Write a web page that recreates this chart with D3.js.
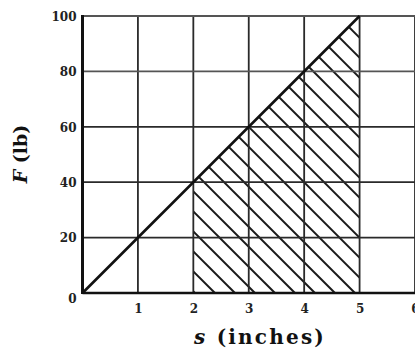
<!DOCTYPE html>
<html>
<head>
<meta charset="utf-8">
<script src="https://cdn.jsdelivr.net/npm/d3@7"></script>
<style>
  html, body { margin: 0; padding: 0; background: #fff; }
  svg { display: block; }
</style>
</head>
<body>
<svg id="chart" width="415" height="356"></svg>
<script>
// ---- data ----
const xTickValues = [1, 2, 3, 4, 5, 6];
const yTickValues = [0, 20, 40, 60, 80, 100];
const lineS = [0, 5];          // s (inches)
const lineF = [0, 100];        // F (lb)
const workS = [2, 5];          // shaded interval
const workF = [40, 100];       // F at interval ends
const xDomain = [0, 6];
const yDomain = [0, 100];

// ---- layout ----
const svg = d3.select("#chart");
const x = d3.scaleLinear().domain(xDomain).range([82.5, 415]);
const y = d3.scaleLinear().domain(yDomain).range([293, 16]);

const gridColor = "#2a2a2a";

// hatched region (clip)
const areaGen = d3.area()
  .x(d => x(d[0]))
  .y0(y(0))
  .y1(d => y(d[1]));
const areaData = workS.map((s, i) => [s, workF[i]]);
svg.append("clipPath").attr("id", "hatchClip")
  .append("path").attr("d", areaGen(areaData));

const hatchG = svg.append("g").attr("clip-path", "url(#hatchClip)");
const spacing = 20;
const x0 = x(3) - y(60);
const minC = x(workS[0]) - y(0) - 40, maxC = x(workS[1]) - y(100) + 40;
const cs = [];
for (let c = x0 - Math.ceil((x0 - minC) / spacing) * spacing; c <= maxC; c += spacing) cs.push(c);
hatchG.selectAll("line").data(cs).enter().append("line")
  .attr("x1", c => c + y(100) - 10).attr("y1", y(100) - 10)
  .attr("x2", c => c + y(0) + 10).attr("y2", y(0) + 10)
  .attr("stroke", "#1a1a1a").attr("stroke-width", 2);

// grid
svg.append("g").selectAll("line").data(xTickValues).enter().append("line")
  .attr("x1", d => x(d)).attr("x2", d => x(d))
  .attr("y1", y(100)).attr("y2", y(0))
  .attr("stroke", gridColor).attr("stroke-width", 1.8);
svg.append("g").selectAll("line").data(yTickValues.filter(v => v > 0)).enter().append("line")
  .attr("x1", x(0)).attr("x2", x(6))
  .attr("y1", d => y(d)).attr("y2", d => y(d))
  .attr("stroke", d => d === 100 || d === 80 ? "#555" : gridColor)
  .attr("stroke-width", 1.8);

// axes lines
svg.append("line").attr("x1", x(0)).attr("x2", x(0)).attr("y1", y(100) - 1).attr("y2", y(0) + 1)
  .attr("stroke", "#111").attr("stroke-width", 3);
svg.append("line").attr("x1", x(0)).attr("x2", x(6)).attr("y1", y(0)).attr("y2", y(0))
  .attr("stroke", "#111").attr("stroke-width", 2.6);

// F = 20 s line
svg.append("path")
  .attr("d", d3.line().x(d => x(d[0])).y(d => y(d[1]))(lineS.map((s, i) => [s, lineF[i]])))
  .attr("fill", "none").attr("stroke", "#111").attr("stroke-width", 2.6);

// tick labels via axes
const fontFam = "'DejaVu Serif', serif";
const yAxis = d3.axisLeft(y).tickValues(yTickValues).tickSize(0).tickPadding(6).tickFormat(d3.format("d"));
const gy = svg.append("g").attr("transform", `translate(${x(0)},0)`).call(yAxis);
gy.select(".domain").remove();
gy.selectAll("text").attr("font-family", fontFam).attr("font-weight", "bold")
  .attr("font-size", 12).attr("fill", "#222")
  .attr("dy", d => d === 0 ? "0.75em" : "0.36em");

const xAxis = d3.axisBottom(x).tickValues(xTickValues).tickSize(0).tickPadding(11).tickFormat(d3.format("d"));
const gx = svg.append("g").attr("transform", `translate(0,${y(0)})`).call(xAxis);
gx.select(".domain").remove();
gx.selectAll("text").attr("font-family", fontFam).attr("font-weight", "bold")
  .attr("font-size", 12).attr("fill", "#222");

// axis titles
const xt = svg.append("text")
  .attr("x", 260).attr("y", 344)
  .attr("text-anchor", "middle")
  .attr("letter-spacing", 2.2)
  .attr("font-family", fontFam).attr("font-weight", "bold").attr("font-size", 20).attr("fill", "#111");
xt.append("tspan").attr("font-style", "italic").text("s");
xt.append("tspan").text(" (inches)");

const yt = svg.append("text")
  .attr("transform", "translate(27,154) rotate(-90)")
  .attr("text-anchor", "middle")
  .attr("font-family", fontFam).attr("font-weight", "bold").attr("font-size", 19).attr("fill", "#111");
yt.append("tspan").attr("font-style", "italic").text("F");
yt.append("tspan").text(" (lb)");
</script>
</body>
</html>
